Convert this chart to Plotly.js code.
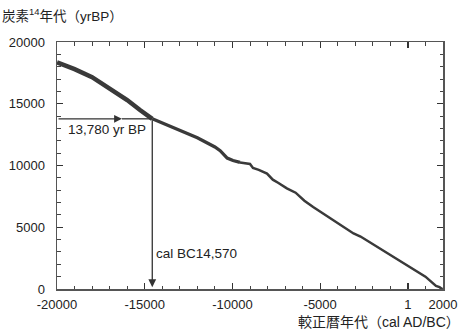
<!DOCTYPE html>
<html>
<head>
<meta charset="utf-8">
<script src="https://cdn.plot.ly/plotly-3.0.1.min.js"></script>
<style>html,body{margin:0;padding:0;background:#fff;}#chart{width:463px;height:330px;}</style>
</head>
<body>
<div id="chart"></div>
<script>
// Older (thick) part of calibration curve: calendar year (BC negative) vs 14C yr BP
const oldYears = [-20000, -19000, -18000, -17000, -16000, -15270, -14570];
const oldBP    = [18350, 17800, 17150, 16250, 15300, 14490, 13780];
// Middle part
const midYears = [-14570, -13400, -12000, -11000, -10700, -10300, -9970, -9570];
const midBP    = [13780, 13050, 12250, 11500, 11200, 10600, 10400, 10250];
// Younger (thinner) part
const youngYears = [-9570, -9000, -8830, -8500, -8030, -7700, -7400, -6900, -6400, -5900, -5400, -4400, -3100, -2700, -1800, -850, 0, 1000, 1600, 1800, 1950, 2000];
const youngBP    = [10250, 10120, 9800, 9650, 9350, 8850, 8600, 8150, 7800, 7150, 6640, 5700, 4500, 4250, 3450, 2590, 1900, 1000, 250, 150, 0, 50];

const xMajor = [-20000, -15000, -10000, -5000, 0, 2000];
const xMajorText = ['-20000', '-15000', '-10000', '-5000', '1', '2000'];
const yMajor = [0, 5000, 10000, 15000, 20000];
const yMajorText = ['0', '5000', '10000', '15000', '20000'];

const readBP = 13780;
const readCal = -14570;
const arrowTipX = -16300;

const lineColor = '#3a3a3a';
const font = 'Liberation Sans, Arial, Noto Sans CJK JP, sans-serif';

const traces = [
  {x: oldYears, y: oldBP, mode: 'lines', line: {color: lineColor, width: 4.5}, hoverinfo: 'skip'},
  {x: midYears, y: midBP, mode: 'lines', line: {color: lineColor, width: 3.3}, hoverinfo: 'skip'},
  {x: youngYears, y: youngBP, mode: 'lines', line: {color: lineColor, width: 2.5}, hoverinfo: 'skip'}
];

const layout = {
  width: 463, height: 330,
  margin: {l: 57, r: 20, t: 42, b: 41},
  paper_bgcolor: '#fff', plot_bgcolor: '#fff',
  showlegend: false,
  font: {family: font, size: 13, color: '#222'},
  xaxis: {
    range: [-20000, 2000], tickmode: 'array', tickvals: xMajor, ticktext: xMajorText,
    ticks: 'inside', ticklen: 6, tickcolor: '#333', tickwidth: 1.2,
    showline: true, linecolor: '#555', linewidth: 1.5, mirror: 'ticks',
    showgrid: false, zeroline: false, ticklabelstandoff: 3,
    minor: {dtick: 1000, ticks: 'inside', ticklen: 3.5, tickcolor: '#444', tickwidth: 1},
    tickfont: {size: 13, color: '#222'}
  },
  yaxis: {
    range: [0, 20000], tickmode: 'array', tickvals: yMajor, ticktext: yMajorText,
    ticks: 'inside', ticklen: 6, tickcolor: '#333', tickwidth: 1.2,
    showline: true, linecolor: '#555', linewidth: 1.5, mirror: 'ticks',
    showgrid: false, zeroline: false, ticklabelstandoff: 8,
    minor: {dtick: 1000, ticks: 'inside', ticklen: 3.5, tickcolor: '#444', tickwidth: 1},
    tickfont: {size: 13, color: '#222'}
  },
  shapes: [
    {type: 'line', xref: 'x', yref: 'y', x0: arrowTipX, x1: readCal, y0: readBP, y1: readBP, line: {color: '#333', width: 1.3}}
  ],
  annotations: [
    {xref: 'x', yref: 'y', axref: 'x', ayref: 'y', x: arrowTipX, y: readBP, ax: -20000, ay: readBP,
     showarrow: true, arrowhead: 2, arrowsize: 1.2, arrowwidth: 1.3, arrowcolor: '#333', text: ''},
    {xref: 'x', yref: 'y', axref: 'x', ayref: 'y', x: readCal, y: 150, ax: readCal, ay: readBP,
     showarrow: true, arrowhead: 2, arrowsize: 1.2, arrowwidth: 1.3, arrowcolor: '#333', text: ''},
    {xref: 'x', yref: 'y', x: -19500, y: readBP, yshift: -11, xanchor: 'left', yanchor: 'middle', showarrow: false,
     text: '13,780 yr BP', font: {size: 13.5, color: '#222'}},
    {xref: 'x', yref: 'y', x: readCal, y: 2850, xshift: 2, xanchor: 'left', yanchor: 'middle', showarrow: false,
     text: 'cal BC14,570', font: {size: 13.5, color: '#222'}},
    {xref: 'paper', yref: 'paper', x: -57/386, y: 1, yshift: 27, xanchor: 'left', yanchor: 'middle', showarrow: false,
     text: '炭素<sup>14</sup>年代（yrBP）', font: {size: 13.5, color: '#222'}},
    {xref: 'paper', yref: 'paper', x: 1, xshift: 19, y: 0, yshift: -33, xanchor: 'right', yanchor: 'middle', showarrow: false,
     text: '較正暦年代（cal AD/BC）', font: {size: 14, color: '#222'}}
  ]
};

Plotly.newPlot('chart', traces, layout, {staticPlot: true, displayModeBar: false});
</script>
</body>
</html>
